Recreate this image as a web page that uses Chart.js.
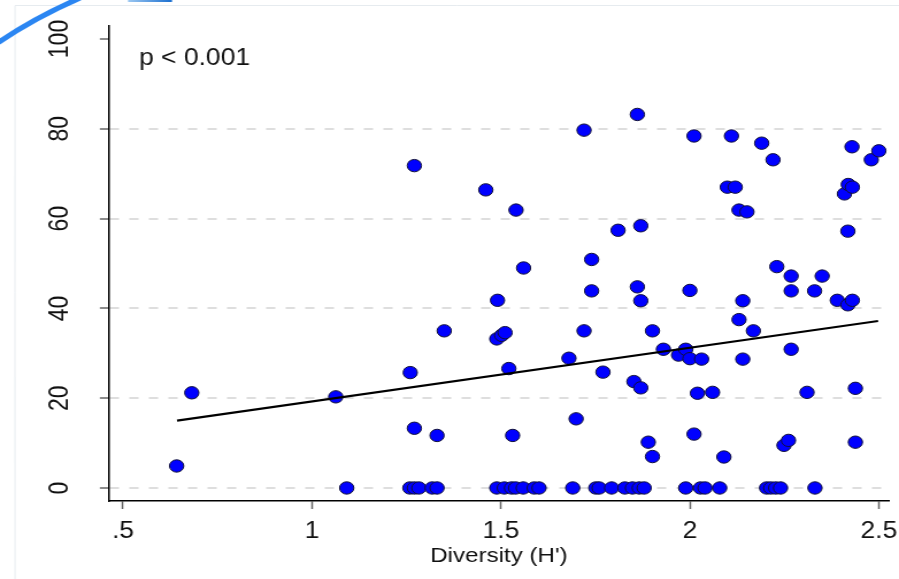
<!DOCTYPE html>
<html>
<head>
<meta charset="utf-8">
<script src="https://cdn.jsdelivr.net/npm/chart.js@4"></script>
<style>
  html, body { margin: 0; padding: 0; background: #fff; }
  #plot { display: block; width: 899px; height: 579px; }
</style>
</head>
<body>
<canvas id="plot" width="782" height="579" style="width:899px;height:579px"></canvas>
<script>
// diversity (H') and response values
const diversity = [
  0.642, 0.682, 1.063, 1.260, 1.271, 1.271, 1.331, 1.350, 1.460, 1.491,
  1.489, 1.502, 1.511, 1.521, 1.531, 1.540, 1.560, 1.680, 1.699, 1.720,
  1.720, 1.740, 1.740, 1.770, 1.810, 1.852, 1.861, 1.861, 1.870, 1.870,
  1.870, 1.890, 1.901, 1.901, 1.930, 1.970, 1.989, 2.000, 2.000, 2.011,
  2.011, 2.020, 2.031, 2.060, 2.090, 2.099, 2.110, 2.120, 2.130, 2.130,
  2.140, 2.140, 2.151, 2.168, 2.190, 2.220, 2.230, 2.249, 2.261, 2.268,
  2.268, 2.268, 2.310, 2.330, 2.350, 2.390, 2.409, 2.419, 2.430, 2.418,
  2.418, 2.430, 2.429, 2.438, 2.438, 2.480, 2.500,
  1.092, 1.259, 1.271, 1.283, 1.318, 1.331, 1.489, 1.509, 1.528, 1.539,
  1.559, 1.588, 1.601, 1.690, 1.751, 1.760, 1.793, 1.828, 1.848, 1.866,
  1.879, 1.989, 2.028, 2.040, 2.079, 2.203, 2.214, 2.227, 2.240, 2.331
];
const values = [
  4.9, 21.2, 20.3, 25.7, 13.3, 71.8, 11.7, 35.0, 66.4, 41.8,
  33.2, 34.0, 34.6, 26.6, 11.7, 61.9, 49.0, 28.9, 15.4, 79.7,
  35.0, 50.9, 43.9, 25.8, 57.4, 23.7, 83.2, 44.8, 41.7, 58.4,
  22.3, 10.2, 7.0, 35.0, 30.9, 29.6, 30.9, 28.8, 44.0, 78.4,
  12.0, 21.1, 28.7, 21.3, 6.9, 67.0, 78.4, 67.0, 61.9, 37.5,
  41.7, 28.7, 61.5, 35.0, 76.8, 73.1, 49.3, 9.5, 10.6, 47.2,
  43.9, 30.9, 21.3, 43.9, 47.2, 41.8, 65.5, 67.6, 67.0, 57.2,
  40.8, 41.8, 76.0, 22.2, 10.2, 73.1, 75.1,
  0, 0, 0, 0, 0, 0, 0, 0, 0, 0,
  0, 0, 0, 0, 0, 0, 0, 0, 0, 0,
  0, 0, 0, 0, 0, 0, 0, 0, 0, 0
];
// fitted line end points
const fitX = [0.643, 2.498];
const fitY = [15.0, 37.2];

const xTicks = [0.5, 1, 1.5, 2, 2.5];
const xTickLabels = ['.5', '1', '1.5', '2', '2.5'];
const yTicks = [0, 20, 40, 60, 80, 100];
const yTickLabels = ['0', '20', '40', '60', '80', '100'];
const xTitle = "Diversity (H')";
const note = 'p < 0.001';

const FONT = '"Liberation Sans", Arial, Helvetica, sans-serif';
const SX = 899 / 782; // horizontal stretch of the page

const extras = {
  id: 'extras',
  beforeDraw(chart) {
    const ctx = chart.ctx;
    ctx.save();
    // faint frame of the slide
    ctx.strokeStyle = '#e6ebef';
    ctx.lineWidth = 1;
    ctx.beginPath();
    ctx.moveTo(15 / SX, 579);
    ctx.lineTo(15 / SX, 5.5);
    ctx.lineTo(782, 5.5);
    ctx.stroke();
    ctx.restore();
  },
  afterDraw(chart) {
    const ctx = chart.ctx;
    const ys = chart.scales.y;
    ctx.save();
    ctx.fillStyle = '#111';
    ctx.font = '23px ' + FONT;
    ctx.textAlign = 'center';
    ctx.textBaseline = 'alphabetic';
    yTicks.forEach((v, i) => {
      ctx.save();
      ctx.translate(59, ys.getPixelForValue(v));
      ctx.rotate(-Math.PI / 2);
      ctx.fillText(yTickLabels[i], 0, 0);
      ctx.restore();
    });
    ctx.textAlign = 'left';
    ctx.fillText(note, 139 / SX, 65);

    // blue arc in the corner
    ctx.strokeStyle = '#2b86f2';
    ctx.lineWidth = 5;
    ctx.lineCap = 'butt';
    ctx.beginPath();
    ctx.moveTo(-2, 43);
    ctx.quadraticCurveTo(34 / SX, 18, 80 / SX, -2);
    ctx.stroke();
    const g = ctx.createLinearGradient(128 / SX, 0, 172 / SX, 0);
    g.addColorStop(0, '#9cc8f2');
    g.addColorStop(1, '#1a6fd0');
    ctx.fillStyle = g;
    ctx.fillRect(128 / SX, 0, 44 / SX, 2);
    ctx.restore();
  }
};

new Chart(document.getElementById('plot'), {
  type: 'scatter',
  data: {
    datasets: [
      {
        type: 'line',
        data: fitX.map((x, i) => ({ x: x, y: fitY[i] })),
        borderColor: '#000',
        borderWidth: 2.2,
        pointRadius: 0,
        fill: false
      },
      {
        data: diversity.map((x, i) => ({ x: x, y: values[i] })),
        backgroundColor: '#0000ff',
        borderColor: '#10103a',
        borderWidth: 1,
        pointRadius: 6.2
      }
    ]
  },
  options: {
    responsive: false,
    devicePixelRatio: 1,
    animation: false,
    layout: { padding: { left: 0, right: 9, top: 26, bottom: 0 } },
    plugins: { legend: { display: false }, tooltip: { enabled: false } },
    scales: {
      x: {
        type: 'linear',
        min: 0.463,
        max: 2.526,
        afterBuildTicks: s => { s.ticks = xTicks.map(v => ({ value: v })); },
        afterFit: s => { s.height = 78; s.paddingLeft = 0; s.paddingRight = 0; },
        ticks: {
          padding: 9,
          color: '#111',
          font: { family: FONT, size: 23 },
          maxRotation: 0,
          callback: (v, i) => xTickLabels[i]
        },
        grid: { drawOnChartArea: false, drawTicks: true, tickLength: 8, tickColor: '#666', tickWidth: 1.5 },
        border: { display: true, color: '#000', width: 1.5 },
        title: {
          display: true,
          text: xTitle,
          color: '#111',
          font: { family: FONT, size: 21 },
          padding: { top: 0, bottom: 10 }
        }
      },
      y: {
        type: 'linear',
        min: -2.9,
        max: 102.9,
        afterBuildTicks: s => { s.ticks = yTicks.map(v => ({ value: v })); },
        afterFit: s => { s.width = 109 / SX; s.paddingTop = 0; s.paddingBottom = 0; },
        ticks: { display: false },
        grid: {
          drawTicks: true,
          tickLength: 8,
          lineWidth: 2,
          color: c => (c.tick && c.tick.value === 100) ? 'rgba(0,0,0,0)' : '#dedede',
          tickColor: '#666',
          tickWidth: 1.5,
          tickBorderDash: []
        },
        border: { display: true, color: '#000', width: 1.5, dash: [8, 9] }
      }
    }
  },
  plugins: [extras]
});
</script>
</body>
</html>
